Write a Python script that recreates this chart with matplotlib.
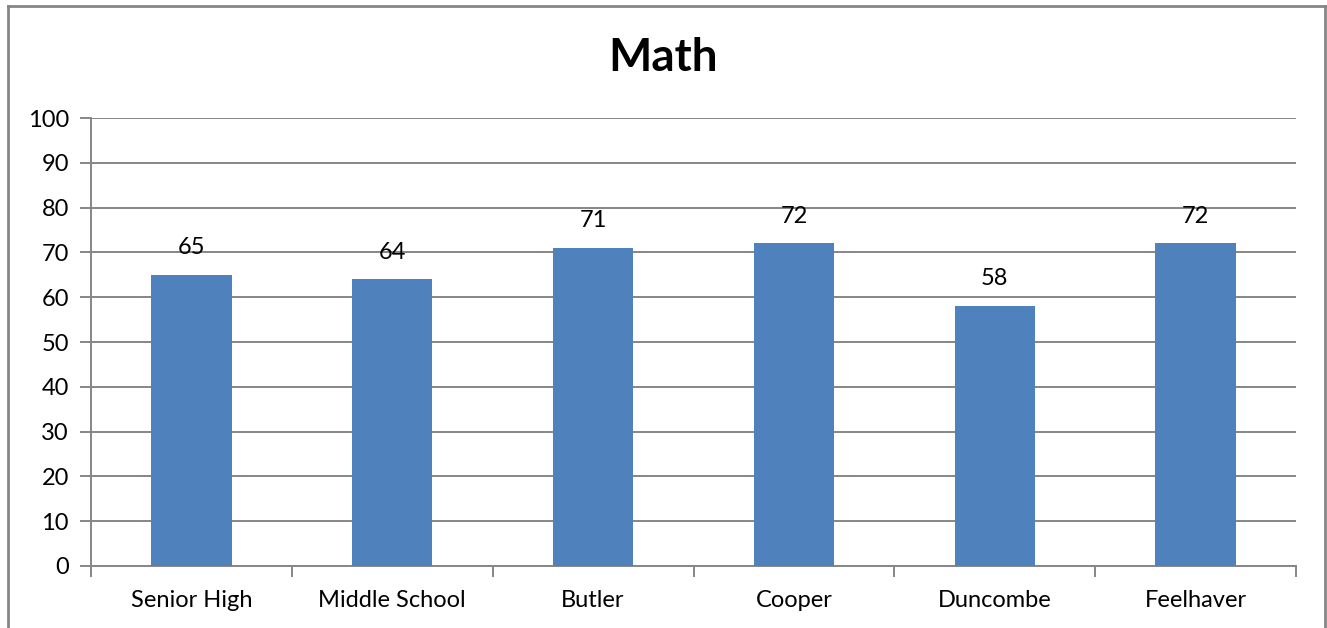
import matplotlib.pyplot as plt
from matplotlib.lines import Line2D

# chart data
schools = ["Senior High", "Middle School", "Butler", "Cooper", "Duncombe", "Feelhaver"]
scores = [65, 64, 71, 72, 58, 72]
y_ticks = list(range(0, 101, 10))

plt.rcParams['font.family'] = ['Lato', 'DejaVu Sans']

fig = plt.figure(figsize=(13.27, 6.28), dpi=100)
ax = fig.add_axes([91 / 1327, 1 - 566 / 628, (1296 - 91) / 1327, (566 - 118) / 628])

grey = "#868686"
x = range(len(schools))
bars = ax.bar(x, scores, width=0.4, color="#4F81BD", zorder=3)

ax.set_xlim(-0.5, len(schools) - 0.5)
ax.set_ylim(0, 100)
ax.set_yticks(y_ticks)
ax.yaxis.grid(True, color=grey, linewidth=1.4, zorder=0)

# x ticks sit on category boundaries, labels in the middle
ax.set_xticks([i - 0.5 for i in range(len(schools) + 1)])
ax.set_xticklabels([])
ax.set_xticks(list(x), minor=True)
ax.set_xticklabels(schools, minor=True, fontsize=17)
ax.tick_params(axis="x", which="minor", length=0, pad=17)
ax.tick_params(axis="x", which="major", length=8, width=1.4, color=grey)
ax.tick_params(axis="y", length=8, width=1.4, color=grey, labelsize=17, pad=8)

for s in ["top", "right"]:
    ax.spines[s].set_visible(False)
for s in ["left", "bottom"]:
    ax.spines[s].set_color(grey)
    ax.spines[s].set_linewidth(1.4)

ax.bar_label(bars, labels=[str(v) for v in scores], padding=12, fontsize=17)

fig.text(0.5, 1 - 58 / 628, "Math", ha="center", va="center", fontsize=33, fontweight="bold")

# outer chart border (bottom is cut off in the reference)
bx0, bx1, by = 8 / 1327, 1325 / 1327, 1 - 6 / 628
for xs, ys in [([bx0, bx0], [0, by]), ([bx0, bx1], [by, by]), ([bx1, bx1], [by, 0])]:
    fig.add_artist(Line2D(xs, ys, color=grey, linewidth=2, transform=fig.transFigure))

fig.savefig("out.png", dpi=100)
